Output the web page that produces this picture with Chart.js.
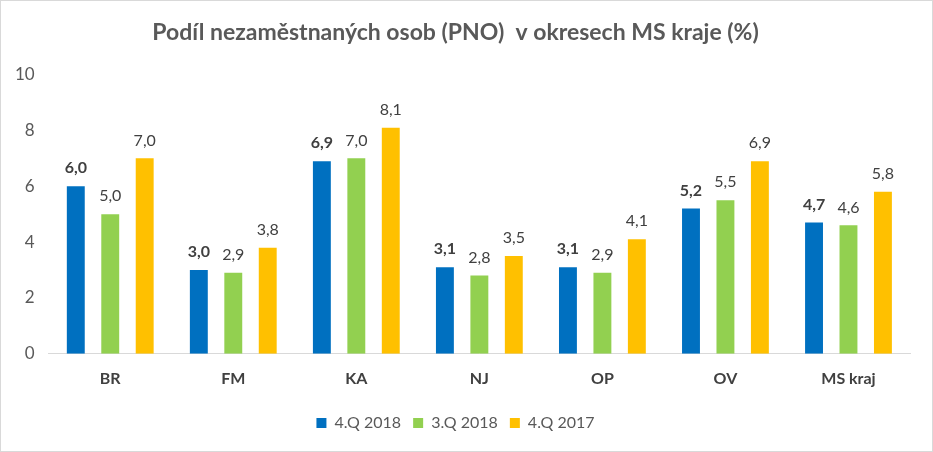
<!DOCTYPE html>
<html><head><meta charset="utf-8">
<script src="https://cdn.jsdelivr.net/npm/chart.js@4/dist/chart.umd.min.js"></script>
<style>
html,body{margin:0;padding:0;background:#fff;}
#wrap{position:absolute;left:0;top:0;width:931px;height:450px;border:1px solid #d9d9d9;}
</style></head><body>
<div id="wrap"><canvas id="c" width="931" height="450"></canvas></div>
<script>
const categories = ["BR","FM","KA","NJ","OP","OV","MS kraj"];
const q4_2018 = [6.0,3.0,6.9,3.1,3.1,5.2,4.7];
const q3_2018 = [5.0,2.9,7.0,2.8,2.9,5.5,4.6];
const q4_2017 = [7.0,3.8,8.1,3.5,4.1,6.9,5.8];
const seriesNames = ["4.Q 2018","3.Q 2018","4.Q 2017"];
const yTicks = [0,2,4,6,8,10];
const titleText = "Podíl nezaměstnaných osob (PNO)  v okresech MS kraje (%)";

const FONT = "Lato, 'Open Sans', sans-serif";
const labelPlugin = {
  id:'dl',
  afterDatasetsDraw(chart){
    const ctx = chart.ctx;
    chart.data.datasets.forEach((ds,i)=>{
      const meta = chart.getDatasetMeta(i);
      meta.data.forEach((bar,j)=>{
        const v = ds.data[j];
        ctx.save();
        ctx.font = (i===0?'bold ':'') + '16px ' + FONT;
        ctx.fillStyle = '#404040';
        ctx.textAlign='center';
        ctx.textBaseline='bottom';
        ctx.fillText(v.toFixed(1).replace('.',','), bar.x, bar.y-10);
        ctx.restore();
      });
    });
  }
};

new Chart(document.getElementById('c'),{
  type:'bar',
  data:{
    labels:categories,
    datasets:[
      {label:seriesNames[0],data:q4_2018,backgroundColor:'#0070C0'},
      {label:seriesNames[1],data:q3_2018,backgroundColor:'#92D050'},
      {label:seriesNames[2],data:q4_2017,backgroundColor:'#FFC000'}
    ]
  },
  options:{
    responsive:false,animation:false,
    datasets:{bar:{categoryPercentage:0.84,barPercentage:0.52}},
    layout:{padding:{left:0,right:22,top:10,bottom:10}},
    plugins:{
      title:{display:true,text:titleText,color:'#595959',font:{family:FONT,size:23,weight:'bold'},padding:{top:8,bottom:28}},
      legend:{position:'bottom',labels:{color:'#595959',font:{family:FONT,size:16},boxWidth:10,boxHeight:10,padding:12}},
      tooltip:{enabled:false}
    },
    scales:{
      x:{grid:{display:false,drawTicks:false},border:{color:'#d9d9d9',width:1},
         ticks:{color:'#404040',font:{family:FONT,size:16,weight:'bold'},padding:15}},
      y:{min:0,max:10,afterBuildTicks(ax){ax.ticks=yTicks.map(v=>({value:v}));},
         grid:{display:false,drawTicks:false},border:{display:false},
         ticks:{color:'#595959',font:{family:FONT,size:17},padding:14}}
    }
  },
  plugins:[labelPlugin]
});
</script></body></html>
